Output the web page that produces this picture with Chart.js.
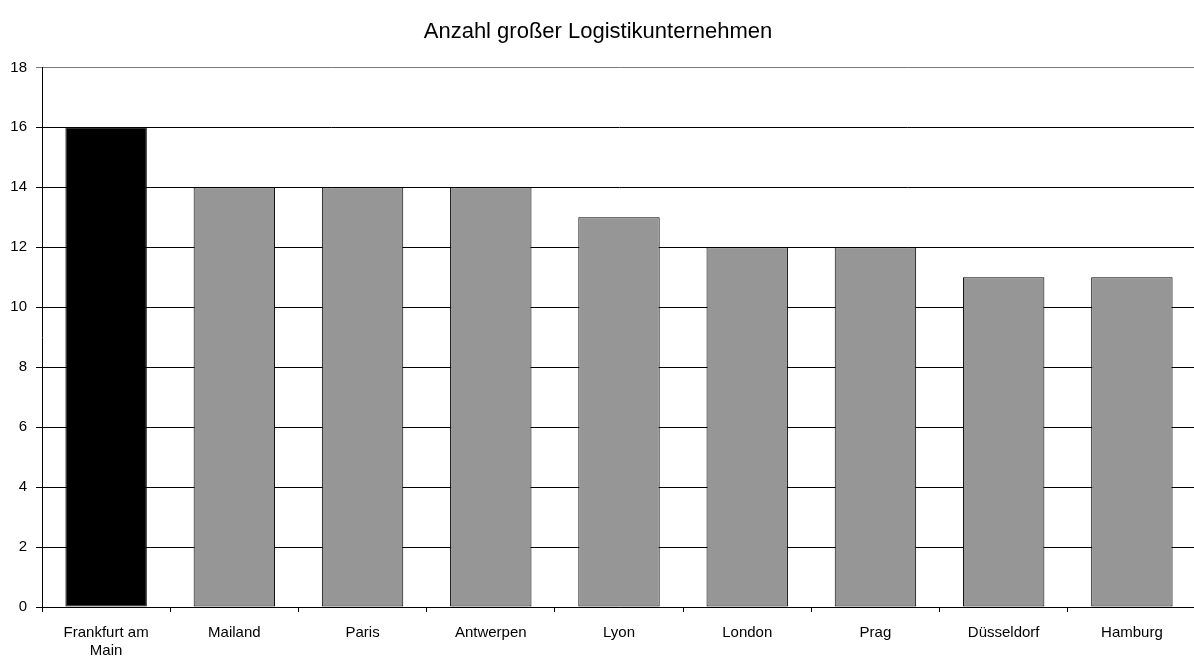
<!DOCTYPE html>
<html lang="de">
<head>
<meta charset="utf-8">
<title>Anzahl großer Logistikunternehmen</title>
<script src="https://cdn.jsdelivr.net/npm/chart.js@4/dist/chart.umd.min.js"></script>
<style>
  html, body { margin: 0; padding: 0; background: #ffffff; overflow: hidden; }
  #wrap { width: 1203px; height: 661px; }
</style>
</head>
<body>
<div id="wrap"><canvas id="chart" width="1203" height="661"></canvas></div>
<script>
// Standorte und Anzahl großer Logistikunternehmen
const cities = ['Frankfurt am Main', 'Mailand', 'Paris', 'Antwerpen', 'Lyon', 'London', 'Prag', 'Düsseldorf', 'Hamburg'];
const companies = [16, 14, 14, 14, 13, 12, 12, 11, 11];
const yTicks = [0, 2, 4, 6, 8, 10, 12, 14, 16, 18];
const chartTitle = 'Anzahl großer Logistikunternehmen';
const highlightCity = 'Frankfurt am Main';

const fontFamily = "'Liberation Sans', Arial, sans-serif";

// Lange Beschriftungen am letzten Leerzeichen umbrechen
function wrapLabel(text) {
  if (text.length <= 12) return text;
  const i = text.lastIndexOf(' ');
  return i > 0 ? [text.slice(0, i), text.slice(i + 1)] : text;
}

new Chart(document.getElementById('chart'), {
  type: 'bar',
  data: {
    labels: cities,
    datasets: [{
      data: companies,
      backgroundColor: cities.map(c => c === highlightCity ? '#000000' : '#969696'),
      borderColor: '#000000',
      borderWidth: 1,
      borderSkipped: false,
      barPercentage: 0.635,
      categoryPercentage: 1.0
    }]
  },
  options: {
    responsive: false,
    devicePixelRatio: 1,
    animation: false,
    layout: { padding: { left: 0, right: 7, top: 0, bottom: 0 } },
    plugins: {
      legend: { display: false },
      tooltip: { enabled: false },
      title: {
        display: true,
        text: chartTitle,
        color: '#000000',
        font: { family: fontFamily, size: 22, weight: 'normal', lineHeight: 1.2 },
        padding: { top: 19, bottom: 22 }
      }
    },
    scales: {
      x: {
        offset: true,
        grid: {
          offset: true,
          drawOnChartArea: false,
          drawTicks: true,
          tickLength: 5,
          color: '#000000'
        },
        border: { display: true, color: '#000000', width: 1 },
        ticks: {
          color: '#000000',
          font: { family: fontFamily, size: 15, lineHeight: 1.25 },
          padding: 11,
          maxRotation: 0,
          autoSkip: false,
          callback: function (value) { return wrapLabel(this.getLabelForValue(value)); }
        },
        afterFit: s => { s.height = 54; }
      },
      y: {
        min: yTicks[0],
        max: yTicks[yTicks.length - 1],
        afterBuildTicks: s => { s.ticks = yTicks.map(v => ({ value: v })); },
        grid: {
          color: ctx => ctx.tick && ctx.tick.value === yTicks[yTicks.length - 1] ? '#7a7a7a' : '#000000',
          lineWidth: 1,
          drawTicks: true,
          tickLength: 6
        },
        border: { display: true, color: '#000000', width: 1 },
        ticks: {
          color: '#000000',
          font: { family: fontFamily, size: 15 },
          padding: 9
        },
        afterFit: s => { s.width = 42; }
      }
    }
  }
});
</script>
</body>
</html>
